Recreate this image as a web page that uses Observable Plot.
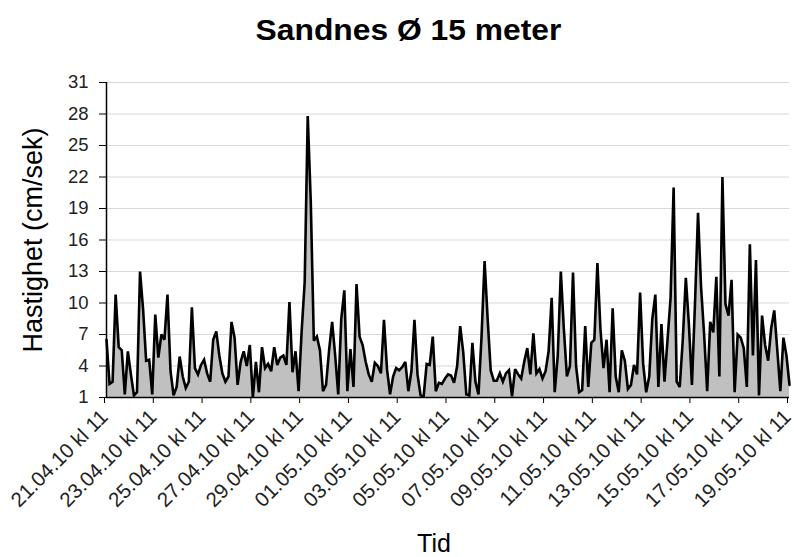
<!DOCTYPE html>
<html><head><meta charset="utf-8">
<script src="https://cdn.jsdelivr.net/npm/d3@7"></script>
<script src="https://cdn.jsdelivr.net/npm/@observablehq/plot@0.6"></script>
<style>
body{margin:0;background:#fff;}
#wrap{position:relative;width:794px;height:557px;font-family:"Liberation Sans",Arial,sans-serif;color:#000;overflow:hidden;}
#title{position:absolute;left:0;width:817px;top:15px;text-align:center;font-weight:bold;font-size:30px;line-height:30px;transform:scaleX(1.06);}
#ylab{position:absolute;left:33px;top:240px;font-size:27px;white-space:nowrap;transform:translate(-50%,-50%) rotate(-90deg);}
#xlab{position:absolute;left:0;width:868px;top:531px;text-align:center;font-size:25px;line-height:25px;}
#chart{position:absolute;left:0;top:0;}
</style></head><body>
<div id="wrap"><div id="chart"></div><div id="title">Sandnes Ø 15 meter</div><div id="ylab">Hastighet (cm/sek)</div><div id="xlab">Tid</div></div>
<script>
// Series: current speed (cm/sek), sampled every 3 hours from 21.04.10 kl 11
const startTime = "2010-04-21T11:00:00Z";
const stepHours = 3;
const speed = [
6.5,2.3,2.5,10.8,5.8,5.5,1.3,5.4,3.2,1.2,1.5,13,9.4,4.5,4.6,1.3,8.9,4.8,7,6.5,
10.8,3.5,1.2,2,4.9,3,1.9,2.5,9.6,3.8,3.2,4.1,4.6,3.3,2.5,6.5,7.3,5,
3.3,2.5,3,8.2,6.7,2.2,4.4,5.4,4,6,1,4.4,1.5,5.8,3.8,4.2,3.5,5.8,4.1,4.8,5,4.1,
10.1,3.4,5.4,1.6,7.3,12,27.8,19.6,6.4,6.8,5.5,1.6,2.2,5.5,8.2,5,
1.3,8.5,11.2,1.6,5.6,2,11.8,6.8,6,4.4,3.2,2.5,4.3,4,3.3,8.4,3.7,1.3,3,3.8,
3.6,3.9,4.4,1.6,3.5,8.4,3.2,1.2,1.1,4.2,4.1,6.8,1.6,2.4,2.3,2.8,3.2,
3.1,2.4,4,7.8,5.3,1.3,1.2,6.2,2.5,1.3,6.8,14,8.5,3.6,2.6,2.6,3.3,2.5,3.3,3.6,
1.1,3.7,3.2,2.8,4.4,5.7,3.2,7.1,3.3,3.7,2.8,3.5,5.4,10.5,1.5,5,13,7.5,
3,4,12.9,4,1.5,1.7,7.8,2,6.2,6.5,13.8,7.5,3.8,6.5,1.5,9.5,3,1.5,5.5,4.5,
1.8,2.2,4.1,3.2,11,4.2,1.5,3,8.5,10.8,2,8,2.5,6.5,10.5,21,2.5,2,
6.5,12.4,8,2.2,9.9,18.6,11.5,7,1.6,8.2,7.2,12.5,3,22,9.9,8.8,12.2,1.5,7,6.7,
5.7,2,15.6,5,14.1,1.2,8.8,6,4.5,7.6,9.3,5.5,1.6,6.7,5,2.2
];
const xTickDates = ["2010-04-21T11:00:00Z","2010-04-23T11:00:00Z","2010-04-25T11:00:00Z","2010-04-27T11:00:00Z",
"2010-04-29T11:00:00Z","2010-05-01T11:00:00Z","2010-05-03T11:00:00Z","2010-05-05T11:00:00Z",
"2010-05-07T11:00:00Z","2010-05-09T11:00:00Z","2010-05-11T11:00:00Z","2010-05-13T11:00:00Z",
"2010-05-15T11:00:00Z","2010-05-17T11:00:00Z","2010-05-19T11:00:00Z"];
const xTickLabels = ["21.04.10 kl 11","23.04.10 kl 11","25.04.10 kl 11","27.04.10 kl 11","29.04.10 kl 11",
"01.05.10 kl 11","03.05.10 kl 11","05.05.10 kl 11","07.05.10 kl 11","09.05.10 kl 11","11.05.10 kl 11",
"13.05.10 kl 11","15.05.10 kl 11","17.05.10 kl 11","19.05.10 kl 11"];
const yTicks = [1,4,7,10,13,16,19,22,25,28,31];

const t0 = new Date(startTime).getTime();
const data = speed.map((v, i) => ({t: new Date(t0 + i * stepHours * 3600e3), v}));
const tickDates = xTickDates.map(s => new Date(s));
const labelOf = d => xTickLabels[tickDates.findIndex(x => +x === +d)];

const chart = Plot.plot({
  width: 794, height: 557,
  marginLeft: 106, marginRight: 5, marginTop: 82, marginBottom: 160,
  style: {fontFamily: '"Liberation Sans", Arial, sans-serif', fontSize: "18px", background: "transparent", color: "#000"},
  x: {type: "utc", domain: [tickDates[0], tickDates[tickDates.length - 1]]},
  y: {domain: [1, 31]},
  marks: [
    Plot.gridY(yTicks, {stroke: "#d9d9d9", strokeOpacity: 1, strokeWidth: 1.2}),
    Plot.areaY(data, {x: "t", y1: 1, y2: "v", fill: "#c0c0c0"}),
    Plot.lineY(data, {x: "t", y: "v", stroke: "#000", strokeWidth: 2.6, strokeLinejoin: "miter", strokeMiterlimit: 3}),
    Plot.ruleY([1], {stroke: "#000", strokeWidth: 1.5}),
    Plot.ruleX([tickDates[0]], {stroke: "#000", strokeWidth: 1.5}),
    Plot.axisY(yTicks, {tickSize: 7, tickPadding: 11, label: null, fontSize: 18.5, stroke: "#000", fill: "#222"}),
    Plot.axisX(tickDates, {tickSize: 6, tickPadding: 10, tickRotate: -45, tickFormat: labelOf, label: null, fontSize: 20.5, dx: -2, stroke: "#000", fill: "#222"})
  ]
});
document.getElementById("chart").appendChild(chart);
</script>
</body></html>
